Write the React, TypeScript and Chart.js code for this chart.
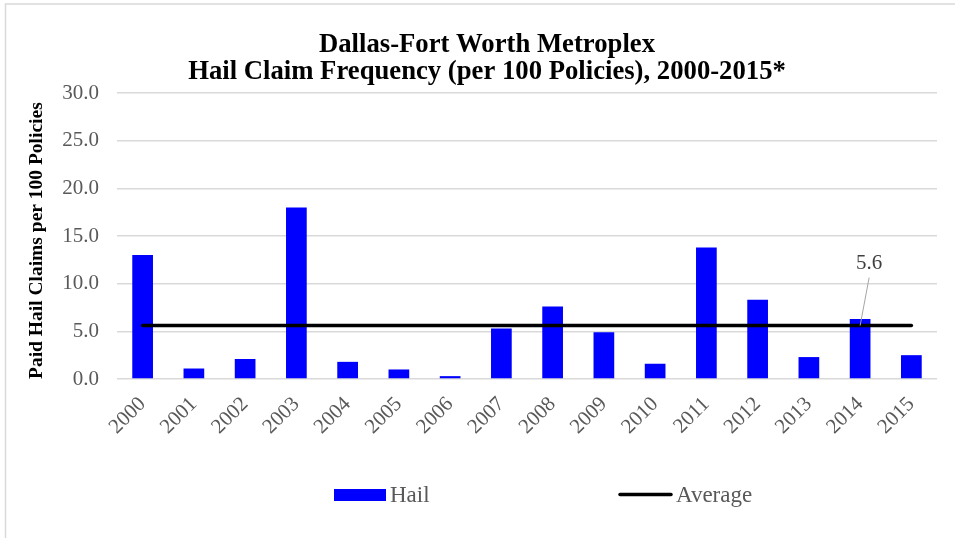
import React, { useEffect, useRef } from "react";
import { Chart, registerables } from "chart.js";

Chart.register(...registerables);

const years = ["2000", "2001", "2002", "2003", "2004", "2005", "2006", "2007", "2008", "2009", "2010", "2011", "2012", "2013", "2014", "2015"];
const hailValues = [13.0, 1.1, 2.1, 18.0, 1.8, 1.0, 0.3, 5.3, 7.6, 4.9, 1.6, 13.8, 8.3, 2.3, 6.3, 2.5];
const averageValues = [5.6, 5.6, 5.6, 5.6, 5.6, 5.6, 5.6, 5.6, 5.6, 5.6, 5.6, 5.6, 5.6, 5.6, 5.6, 5.6];
const averageLabelIndex = 14;
const seriesNames = ["Hail", "Average"];
const titleLines = ["Dallas-Fort Worth Metroplex", "Hail Claim Frequency (per 100 Policies), 2000-2015*"];
const yAxisTitle = "Paid Hail Claims per 100 Policies";
const yMin = 0;
const yMax = 30;
const yStep = 5;

const FONT = "'Liberation Serif', 'Times New Roman', serif";
const BAR_COLOR = "#0000FF";
const LINE_COLOR = "#000000";
const TEXT_GRAY = "#595959";
const GRID = "#d9d9d9";

const framePlugin = {
  id: "frame",
  beforeDraw(chart: any) {
    const ctx = chart.ctx;
    ctx.save();
    ctx.fillStyle = "#ffffff";
    ctx.fillRect(0, 0, chart.width, chart.height);
    ctx.strokeStyle = GRID;
    ctx.lineWidth = 1.5;
    ctx.strokeRect(5.5, 4, chart.width + 20, chart.height + 20);
    ctx.restore();
  },
};

const avgLabelPlugin = {
  id: "avgLabel",
  afterDatasetsDraw(chart: any) {
    const meta = chart.getDatasetMeta(1);
    const el = meta.data[averageLabelIndex];
    if (!el) return;
    const ctx = chart.ctx;
    const x = el.x;
    const y = el.y;
    ctx.save();
    ctx.strokeStyle = "#a6a6a6";
    ctx.lineWidth = 1;
    ctx.beginPath();
    ctx.moveTo(x + 9, y - 48);
    ctx.lineTo(x, y);
    ctx.stroke();
    ctx.fillStyle = "#404040";
    ctx.font = `21px ${FONT}`;
    ctx.textAlign = "center";
    ctx.textBaseline = "middle";
    ctx.fillText(averageValues[averageLabelIndex].toFixed(1), x + 9, y - 62);
    ctx.restore();
  },
};

const legendPlugin = {
  id: "customLegend",
  afterDraw(chart: any) {
    const ctx = chart.ctx;
    const cy = 495;
    ctx.save();
    ctx.font = `23px ${FONT}`;
    ctx.textBaseline = "middle";
    ctx.textAlign = "left";
    // Hail
    ctx.fillStyle = BAR_COLOR;
    ctx.fillRect(334, cy - 6, 52, 12);
    ctx.fillStyle = TEXT_GRAY;
    ctx.fillText(seriesNames[0], 390, cy + 1);
    // Average
    ctx.strokeStyle = LINE_COLOR;
    ctx.lineWidth = 3.5;
    ctx.lineCap = "round";
    ctx.beginPath();
    ctx.moveTo(620, cy - 0.5);
    ctx.lineTo(671, cy - 0.5);
    ctx.stroke();
    ctx.fillStyle = TEXT_GRAY;
    ctx.fillText(seriesNames[1], 676, cy + 1);
    ctx.restore();
  },
};

export default function App() {
  const ref = useRef<HTMLCanvasElement | null>(null);

  useEffect(() => {
    if (!ref.current) return;
    const chart = new Chart(ref.current, {
      data: {
        labels: years,
        datasets: [
          {
            type: "bar",
            label: seriesNames[0],
            data: hailValues,
            backgroundColor: BAR_COLOR,
            borderWidth: 0,
            barPercentage: 0.404,
            categoryPercentage: 1,
            order: 1,
          },
          {
            type: "line",
            label: seriesNames[1],
            data: averageValues,
            borderColor: LINE_COLOR,
            backgroundColor: LINE_COLOR,
            borderWidth: 3.5,
            borderCapStyle: "round",
            pointRadius: 0,
            pointHoverRadius: 0,
            fill: false,
            order: 0,
          },
        ],
      } as any,
      options: {
        responsive: false,
        animation: false,
        events: [],
        layout: { padding: { left: 19, right: 0, top: 0, bottom: 80 } },
        plugins: {
          legend: { display: false },
          tooltip: { enabled: false },
          title: {
            display: true,
            text: titleLines,
            color: "#000000",
            font: { family: FONT, size: 26.7, weight: "bold", lineHeight: 1.03 },
            padding: { top: 31, bottom: 7 },
          },
        },
        scales: {
          x: {
            offset: true,
            grid: { display: false, drawTicks: false },
            border: { display: false },
            ticks: {
              color: TEXT_GRAY,
              font: { family: FONT, size: 21 },
              minRotation: 45,
              maxRotation: 45,
              padding: 13,
              autoSkip: false,
            },
            afterFit(scale: any) {
              scale.height = 79;
            },
          },
          y: {
            min: yMin,
            max: yMax,
            grid: { color: GRID, lineWidth: 1.5, drawTicks: false },
            border: { display: false },
            ticks: {
              stepSize: yStep,
              color: TEXT_GRAY,
              font: { family: FONT, size: 21 },
              padding: 18,
              callback: (v: any) => Number(v).toFixed(1),
            },
            title: {
              display: true,
              text: yAxisTitle,
              align: "start",
              color: "#000000",
              font: { family: FONT, size: 19.5, weight: "bold", lineHeight: 1 },
              padding: { top: 8, bottom: 0 },
            },
            afterFit(scale: any) {
              scale.width = 98;
            },
          },
          yRight: {
            position: "right",
            display: true,
            grid: { display: false, drawTicks: false },
            border: { display: false },
            ticks: { display: false },
            afterFit(scale: any) {
              scale.width = 18;
            },
          },
        },
      } as any,
      plugins: [framePlugin, avgLabelPlugin, legendPlugin],
    });
    return () => chart.destroy();
  }, []);

  return (
    <div style={{ position: "absolute", left: 0, top: 0, width: 955, height: 538 }}>
      <canvas ref={ref} width={955} height={538} style={{ display: "block", width: 955, height: 538 }} />
    </div>
  );
}
